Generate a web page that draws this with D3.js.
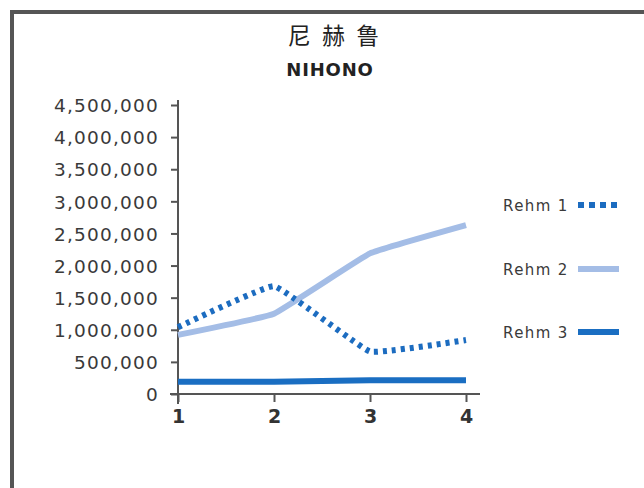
<!DOCTYPE html>
<html><head><meta charset="utf-8">
<script src="https://cdn.jsdelivr.net/npm/d3@7"></script>
<style>
html,body{margin:0;padding:0;background:#fff;}
svg{display:block;}
</style></head>
<body>
<svg id="c" width="644" height="488"></svg>
<script>
const categories = [1, 2, 3, 4];
const seriesNames = ["Rehm 1", "Rehm 2", "Rehm 3"];
const rehm1 = [1040000, 1680000, 660000, 840000];
const rehm2 = [920000, 1250000, 2190000, 2630000];
const rehm3 = [190000, 190000, 215000, 215000];
const yTicks = [0, 500000, 1000000, 1500000, 2000000, 2500000, 3000000, 3500000, 4000000, 4500000];
const titleText = "尼 赫 鲁";
const subtitleText = "NIHONO";

const svg = d3.select("#c");
const fontFam = "'DejaVu Sans', sans-serif";
const textCol = "#3a3a3a";

// frame
svg.append("path")
  .attr("d", "M12,500 L12,12 L660,12")
  .attr("fill", "none").attr("stroke", "#555").attr("stroke-width", 4);

// titles
svg.append("text").attr("x", 335).attr("y", 44).attr("text-anchor", "middle")
  .attr("font-family", "'Noto Sans CJK SC', sans-serif").attr("font-size", 23)
  .attr("letter-spacing", 3).attr("fill", "#222").text(titleText);
svg.append("text").attr("x", 330).attr("y", 76).attr("text-anchor", "middle")
  .attr("font-family", fontFam).attr("font-weight", "bold").attr("font-size", 18)
  .attr("letter-spacing", 0.8).attr("fill", "#222").text(subtitleText);

const x = d3.scalePoint().domain(categories).range([178, 466]);
const y = d3.scaleLinear().domain([0, 4500000]).range([394, 105]);

// y axis
const yAxis = d3.axisLeft(y).tickValues(yTicks).tickFormat(d3.format(",")).tickSize(7).tickPadding(12);
const gy = svg.append("g").attr("transform", "translate(178,0)").call(yAxis);
gy.select(".domain").attr("d", "M0,100 V404").attr("stroke", "#555").attr("stroke-width", 2);
gy.selectAll(".tick line").attr("stroke", "#555").attr("stroke-width", 2);
gy.selectAll(".tick text").attr("font-family", fontFam).attr("font-size", 18.5)
  .attr("letter-spacing", 1.2).attr("fill", textCol).attr("dy", "0.36em");

// x axis
const xAxis = d3.axisBottom(x).tickSize(8).tickPadding(8);
const gx = svg.append("g").attr("transform", "translate(0,394)").call(xAxis);
gx.select(".domain").attr("d", "M170,0 H480").attr("stroke", "#555").attr("stroke-width", 2);
gx.selectAll(".tick line").attr("stroke", "#555").attr("stroke-width", 2);
gx.selectAll(".tick text").attr("font-family", fontFam).attr("font-weight", "bold")
  .attr("font-size", 19).attr("fill", "#333");

const line = d3.line().x((d, i) => x(categories[i])).y(d => y(d)).curve(d3.curveCardinal.tension(0.75));

const styles = [
  {data: rehm1, color: "#1c6cc0", dash: "4,5", width: 6},
  {data: rehm2, color: "#a4bde6", dash: null, width: 6},
  {data: rehm3, color: "#1a6ec2", dash: null, width: 6}
];
// draw order: rehm2, rehm3, rehm1 on top
[1, 2, 0].forEach(k => {
  const s = styles[k];
  const p = svg.append("path").attr("d", line(s.data)).attr("fill", "none")
    .attr("stroke", s.color).attr("stroke-width", s.width);
  if (s.dash) p.attr("stroke-dasharray", s.dash);
});

// legend
const legY = [205, 269, 332];
seriesNames.forEach((name, k) => {
  const s = styles[k];
  svg.append("text").attr("x", 503).attr("y", legY[k] + 5.5)
    .attr("font-family", fontFam).attr("font-size", 15).attr("letter-spacing", 1.4)
    .attr("fill", textCol).text(name);
  const l = svg.append("line").attr("x1", 578).attr("x2", 619)
    .attr("y1", legY[k]).attr("y2", legY[k])
    .attr("stroke", s.color).attr("stroke-width", 6);
  if (s.dash) l.attr("stroke-dasharray", "6,5");
});
</script>
</body></html>
